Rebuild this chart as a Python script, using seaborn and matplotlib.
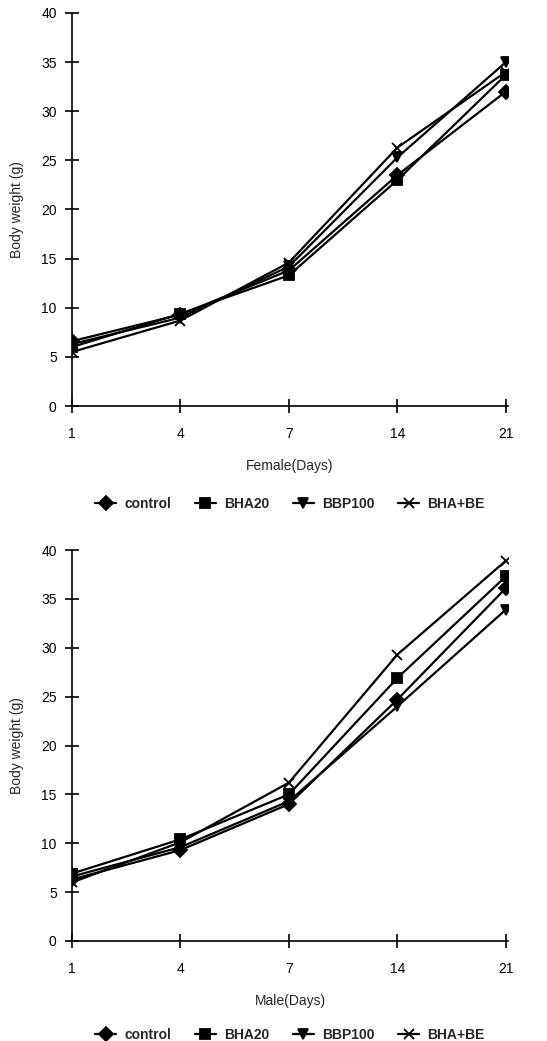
import numpy as np
import pandas as pd
import matplotlib
matplotlib.use("Agg")
import matplotlib.pyplot as plt
import seaborn as sns

# --- dados ---
days = ["1", "4", "7", "14", "21"]
groups = ["control", "BHA20", "BBP100", "BHA+BE"]

female_control = [6.6, 9.3, 13.8, 23.5, 32.0]
female_bha20 = [6.0, 9.4, 13.3, 23.0, 33.7]
female_bbp100 = [6.3, 9.0, 14.2, 25.3, 35.0]
female_bhabe = [5.5, 8.7, 14.6, 26.3, 34.0]

male_control = [6.3, 9.3, 14.0, 24.7, 36.1]
male_bha20 = [6.9, 10.4, 15.0, 26.9, 37.3]
male_bbp100 = [6.6, 9.6, 14.3, 24.0, 33.9]
male_bhabe = [6.0, 10.1, 16.2, 29.3, 38.9]

yticks = [0, 5, 10, 15, 20, 25, 30, 35, 40]


def long_df(series):
    rows = []
    for g, vals in zip(groups, series):
        for d, v in zip(days, vals):
            rows.append({"Day": d, "Group": g, "Weight": v})
    return pd.DataFrame(rows)


df_female = long_df([female_control, female_bha20, female_bbp100, female_bhabe])
df_male = long_df([male_control, male_bha20, male_bbp100, male_bhabe])

sns.set_style("white")
plt.rcParams["font.family"] = ["Liberation Sans", "DejaVu Sans"]

fig = plt.figure(figsize=(5.47, 10.41), dpi=100)
ax1 = fig.add_axes([72 / 547, 1 - 406 / 1041, 436 / 547, 393 / 1041])
ax2 = fig.add_axes([72 / 547, 1 - 941 / 1041, 436 / 547, 391 / 1041])

markers = {"control": "D", "BHA20": "s", "BBP100": "v", "BHA+BE": "x"}

# (eixo, dados, rótulo x, posição vertical da legenda)
panels = [(ax1, df_female, "Female(Days)", -0.2), (ax2, df_male, "Male(Days)", -0.19)]

for ax, df, xlabel, leg_y in panels:
    for g in groups:
        sub = df[df["Group"] == g]
        sns.lineplot(data=sub, x="Day", y="Weight", ax=ax, color="black",
                     marker=markers[g], label=g, linewidth=1.6, markersize=7,
                     markeredgecolor="black", markeredgewidth=1.3, sort=False)
    ax.set_xlim(0, 4.02)
    ax.set_ylim(0, 40)
    ax.set_yticks(yticks)
    ax.set_xlabel(xlabel, fontsize=10, labelpad=13)
    ax.set_ylabel("Body weight (g)", fontsize=10, labelpad=12)
    for s in ["top", "right"]:
        ax.spines[s].set_visible(False)
    for s in ["left", "bottom"]:
        ax.spines[s].set_color("black")
        ax.spines[s].set_linewidth(1.2)
    ax.tick_params(axis="both", direction="inout", length=10, width=1.2,
                   labelsize=10, colors="black", bottom=True, left=True)
    ax.tick_params(axis="x", pad=10)
    ax.tick_params(axis="y", pad=6)
    ax.legend(loc="upper center", bbox_to_anchor=(0.5, leg_y), ncol=4,
              frameon=False, handlelength=1.5, columnspacing=1.7,
              handletextpad=0.6, prop={"weight": "bold", "size": 10})

fig.savefig("out.png", dpi=100)
